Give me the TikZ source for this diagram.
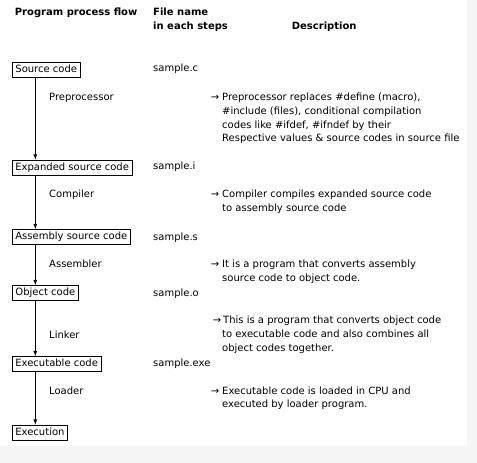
\documentclass[tikz,border=0pt]{standalone}
\usepackage{fontspec}
\setmainfont{DejaVu Sans}
\usetikzlibrary{arrows}

\begin{document}
\begin{tikzpicture}[x=1pt,y=-1pt,
  stage/.style={draw,line width=0.8pt,anchor=west,inner xsep=3pt,inner ysep=0pt,
    minimum height=15pt,text height=7.6pt,text depth=2.4pt},
  txt/.style={anchor=base west,inner sep=0pt},
  head/.style={txt,font=\bfseries},
  flow/.style={-latex,line width=0.8pt}]
\useasboundingbox (0,0) rectangle (477,463);
\fill[black!4] (0,0) rectangle (477,463);
\fill[white] (0,0) rectangle (467,446);

% column headings
\node[head] (hflow) at (14.7,15.5) {Program process flow};
\node[head] (hfile) at (153,15.5) {File name};
\node[head] (hsteps) at (153,29.5) {in each steps};
\node[head] (hdesc) at (291.7,29.5) {Description};

% the stages
\foreach \n/\y/\t in {src/69.5/Source code,exp/167.5/Expanded source code,
  asm/237/Assembly source code,obj/293/Object code,exe/364/Executable code,
  run/432.5/Execution}
\node[stage] (\n) at (12,\y) {\t};

\foreach \a/\b in {src/exp,exp/asm,asm/obj,obj/exe,exe/run} % arrows down
\draw[flow] ([xshift=23.3pt]\a.south west) -- ([xshift=23.3pt]\b.north west);

% tools between the stages
\foreach \n/\y/\t in {pre/97/Preprocessor,cmp/194/Compiler,asb/264/Assembler,
  lnk/335/Linker,lod/390.7/Loader}
\node[txt] (\n) at (49,\y+3.5) {\t};

% file names
\foreach \n/\y/\t in {fc/68.3/sample.c,fi/166/sample.i,fs/236.7/sample.s,
  fo/292.7/sample.o,fe/363/sample.exe}
\node[txt] (\n) at (153,\y+3.5) {\t};

% descriptions, one node per line
\foreach \n/\y in {d1/97.3,d2/194,d3/264.3,d5/390.7}
\node[txt] (\n arr) at (210.7,\y+3.5) {→};
\node[txt] (d4arr) at (212.7,323.5) {→};

\foreach \t [count=\i from 0] in {{Preprocessor replaces \#define (macro),},
  {\#include (files), conditional compilation},
  {codes like \#ifdef, \#ifndef by their},
  {Respective values \& source codes in source file}}
\node[txt] (d1-\i) at (222,100.8+13.7*\i) {\t};
\foreach \t [count=\i from 0] in {Compiler compiles expanded source code,
  to assembly source code}
\node[txt] (d2-\i) at (222,197.5+13.7*\i) {\t};
\foreach \t [count=\i from 0] in {It is a program that converts assembly,
  source code to object code.}
\node[txt] (d3-\i) at (222,267.8+13.7*\i) {\t};
\foreach \t/\x [count=\i from 0] in {This is a program that converts object code/223,
  to executable code and also combines all/222,
  object codes together./222}
\node[txt] (d4-\i) at (\x,323.5+14*\i) {\t};
\foreach \t [count=\i from 0] in {Executable code is loaded in CPU and,
  executed by loader program.}
\node[txt] (d5-\i) at (222,394.2+13.7*\i) {\t};
\end{tikzpicture}
\end{document}
